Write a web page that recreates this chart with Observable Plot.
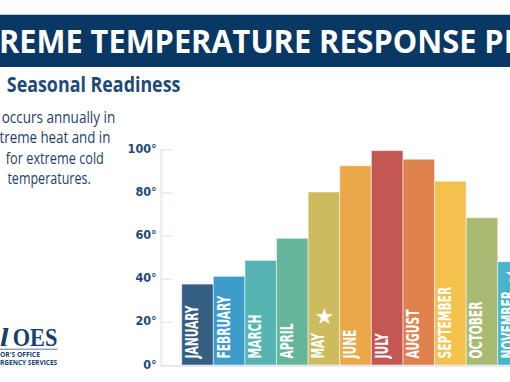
<!DOCTYPE html>
<html><head><meta charset="utf-8">
<script src="https://cdn.jsdelivr.net/npm/d3@7"></script>
<script src="https://cdn.jsdelivr.net/npm/@observablehq/plot@0.6"></script>
<style>
html,body{margin:0;padding:0;width:510px;height:382px;overflow:hidden;background:#fff;}
#page{position:relative;width:510px;height:382px;overflow:hidden;}
#banner{position:absolute;left:0;top:14px;width:510px;height:53px;background:#0a3865;border-top:1px solid #c3ccd6;box-sizing:border-box;}
#chart{position:absolute;left:0;top:0;width:510px;height:382px;}
#overlay{position:absolute;left:0;top:0;}
</style></head><body>
<div id="page"><div id="banner"></div><div id="chart"></div>
<svg id="overlay" width="510" height="382" xmlns="http://www.w3.org/2000/svg"></svg></div>
<script>
// ---- data ----
const months = ["JANUARY","FEBRUARY","MARCH","APRIL","MAY","JUNE","JULY","AUGUST","SEPTEMBER","OCTOBER","NOVEMBER"];
const temps = [37.5, 41.1, 48.5, 58.7, 80.2, 92.4, 99.4, 95.4, 85.2, 68.3, 47.9];
const colors = ["#355e83","#3e9ccb","#56b4b3","#63b69a","#cdbc5f","#eba848","#c45753","#df824d","#f4c14d","#a9ba73","#47b4c9"];
const starred = ["MAY","NOVEMBER"];
const yTicks = [0, 20, 40, 60, 80, 100];
const yTickLabels = ["0°","20°","40°","60°","80°","100°"];
const titleText = "EXTREME TEMPERATURE RESPONSE PLAN";
const subtitleText = "Seasonal Readiness";
const paraLines = ["occurs annually in", "extreme heat and in", "for extreme cold", "temperatures."];
const logoLines = ["Cal", "OES", "GOVERNOR'S OFFICE", "OF EMERGENCY SERVICES"];

const navy = "#1d4a78";
const narrow = "'Liberation Sans Narrow','DejaVu Sans Condensed','Open Sans',sans-serif";

const data = months.map((m, i) => ({month: m, temp: temps[i], color: colors[i]}));
const labelDy = -7;

const chart = Plot.plot({
  width: 510, height: 382,
  marginTop: 149.3, marginBottom: 17, marginLeft: 160.7, marginRight: -40.4,
  x: {domain: months, paddingInner: 0, paddingOuter: 0.665, round: false, axis: null},
  y: {domain: [0, 100]},
  style: {background: "transparent"},
  marks: [
    Plot.barY(data, {x: "month", y: "temp", fill: "color", stroke: "white", strokeOpacity: 0.5, strokeWidth: 1}),
    Plot.ruleY([0], {stroke: "#dce3ea", strokeWidth: 1.5, dy: 0.5}),
    Plot.frame({anchor: "left", stroke: "#dce3ea", strokeWidth: 1.2}),
    Plot.axisY({ticks: yTicks, tickSize: 11, dx: 11, label: null, tickFormat: () => "", stroke: "#dce3ea", strokeWidth: 1.2}),
    Plot.axisY({ticks: yTicks, tickSize: 0, tickPadding: 4.5, dy: -1, label: null,
      tickFormat: d => yTickLabels[yTicks.indexOf(d)],
      fill: navy, fontSize: 12.5, fontWeight: 600, fontFamily: narrow}),
    Plot.text(data, {x: "month", text: "month", frameAnchor: "bottom", rotate: -90, textAnchor: "start", dy: labelDy,
      fill: "white", fontSize: 17.5, fontWeight: "bold", fontFamily: narrow}),
    Plot.text(starred, {x: d => d, text: () => "★", frameAnchor: "bottom", fill: "white", fontSize: 22,
      fontFamily: "DejaVu Sans"})
  ]
});
document.getElementById("chart").append(chart);

const textGroups = chart.querySelectorAll('g[aria-label="text"]');
// condense month labels
const labelEls = Array.from(textGroups[0].querySelectorAll("text"));
const natural = labelEls.map(el => el.getComputedTextLength());
const k = 53 / natural[0];
const lengths = natural.map(n => n * k);
labelEls.forEach((el, i) => {
  el.setAttribute("textLength", lengths[i]);
  el.setAttribute("lengthAdjust", "spacingAndGlyphs");
});
// place stars above their labels (the group already carries the half-band offset)
const xs = chart.scale("x"), ys = chart.scale("y");
const y0 = ys.apply(0);
const starEls = Array.from(textGroups[1].querySelectorAll("text"));
starEls.forEach((el, j) => {
  const i = months.indexOf(starred[j]);
  const cx = xs.apply(starred[j]);
  const cy = y0 + labelDy - lengths[i] - 8 - 8.5;
  el.removeAttribute("x"); el.removeAttribute("y");
  el.setAttribute("text-anchor", "middle");
  el.setAttribute("dy", "0.36em");
  el.setAttribute("transform", `translate(${cx},${cy})`);
});

// ---- overlay texts ----
const ns = "http://www.w3.org/2000/svg";
const ov = document.getElementById("overlay");
function placeText({text, start = 0, len, x0, x1, y, size, weight = "normal", family, fill, italic = false}) {
  const t = document.createElementNS(ns, "text");
  t.textContent = text;
  t.setAttribute("font-size", size);
  t.setAttribute("font-weight", weight);
  t.setAttribute("font-family", family);
  t.setAttribute("fill", fill);
  if (italic) t.setAttribute("font-style", "italic");
  ov.appendChild(t);
  const n = len ?? (text.length - start);
  const pre = start > 0 ? t.getSubStringLength(0, start) : 0;
  const w = t.getSubStringLength(start, n);
  const s = (x1 - x0) / w;
  t.setAttribute("transform", `translate(${x0 - pre * s},${y}) scale(${s},1)`);
  return t;
}
const sans = "'Liberation Sans Narrow','Open Sans',sans-serif";
placeText({text: titleText, start: 3, len: 27, x0: -1, x1: 504, y: 53.3, size: 33, weight: "bold", family: sans, fill: "#ffffff"});
placeText({text: subtitleText, x0: 6.8, x1: 180.5, y: 92, size: 20.5, weight: "bold", family: sans, fill: navy});
const paraColor = "#1c416c";
placeText({text: paraLines[0], x0: 1.7, x1: 115.3, y: 122.6, size: 15.5, weight: 500, family: sans, fill: paraColor});
placeText({text: paraLines[1], start: 2, x0: -0.5, x1: 110.5, y: 143.2, size: 15.5, weight: 500, family: sans, fill: paraColor});
placeText({text: paraLines[2], x0: 5.8, x1: 104, y: 163.9, size: 15.5, weight: 500, family: sans, fill: paraColor});
placeText({text: paraLines[3], x0: 7.4, x1: 90.8, y: 184.4, size: 15.5, weight: 500, family: sans, fill: paraColor});
const serif = "'Liberation Serif','DejaVu Serif',serif";
const logoColor = "#143f6e";
placeText({text: logoLines[0], start: 2, x0: 0, x1: 8.5, y: 345.6, size: 26, weight: "bold", family: serif, fill: logoColor, italic: true});
placeText({text: logoLines[1], x0: 12.7, x1: 57.3, y: 345.6, size: 26, weight: "bold", family: serif, fill: logoColor});
const ln = document.createElementNS(ns, "line");
ln.setAttribute("x1", 0); ln.setAttribute("x2", 57.5); ln.setAttribute("y1", 349.2); ln.setAttribute("y2", 349.2);
ln.setAttribute("stroke", logoColor); ln.setAttribute("stroke-width", 0.7);
ov.appendChild(ln);
placeText({text: logoLines[2], start: 6, x0: 0, x1: 40, y: 357.4, size: 6.3, weight: "bold", family: sans, fill: logoColor});
placeText({text: logoLines[3], start: 6, x0: 0, x1: 57.3, y: 365, size: 6.3, weight: "bold", family: sans, fill: logoColor});
</script>
</body></html>
